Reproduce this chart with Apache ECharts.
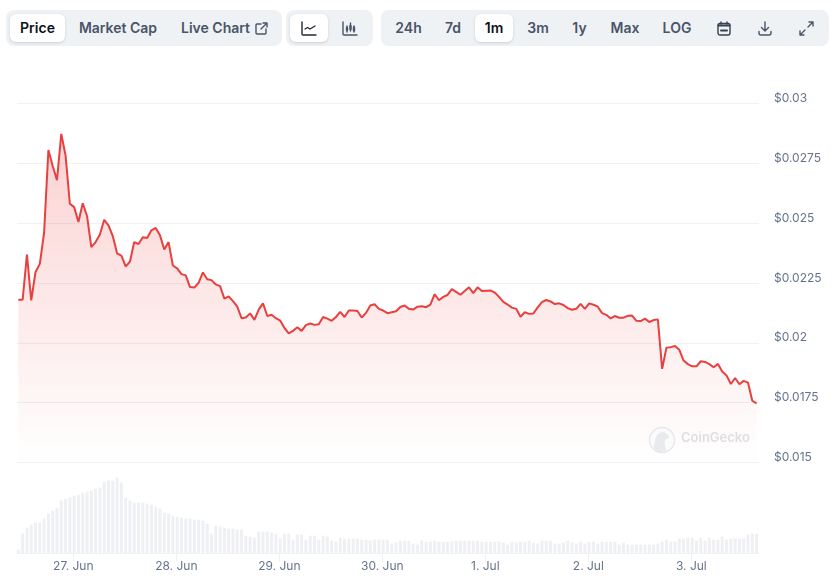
<!DOCTYPE html>
<html>
<head>
<meta charset="utf-8">
<title>Price chart</title>
<script src="https://cdn.jsdelivr.net/npm/echarts@6/dist/echarts.min.js"></script>
<style>
html, body { margin: 0; padding: 0; background: #fff; font-family: Inter, sans-serif; }
#wrap { position: relative; width: 835px; height: 584px; overflow: hidden; }
#main { position: absolute; left: 0; top: 0; width: 835px; height: 584px; }
.group { position: absolute; top: 10px; height: 36px; background: #eff2f5; border-radius: 8px; }
.active { position: absolute; top: 14px; height: 28px; background: #fff; border-radius: 6px; box-shadow: 0 1px 3px rgba(16,24,40,.16); }
.tb { position: absolute; top: 14px; height: 28px; line-height: 28px; transform: translateX(-50%); font-size: 14px; font-weight: 600; color: #4a5568; white-space: nowrap; }
.tb.on { color: #0d1217; }
svg.ic { position: absolute; fill: none; stroke: #4a5568; stroke-width: 1.4; stroke-linecap: round; stroke-linejoin: round; }
</style>
</head>
<body>
<div id="wrap">
  <div class="group" style="left:6px;width:276px"></div>
  <div class="group" style="left:286px;width:87px"></div>
  <div class="group" style="left:381px;width:448px"></div>
  <div class="active" style="left:10px;width:55px"></div>
  <div class="active" style="left:290px;width:38px"></div>
  <div class="active" style="left:475px;width:38px"></div>
  <div id="buttons"></div>
  <svg class="ic" style="left:255px;top:22px" width="13" height="13" viewBox="0 0 13 13"><path d="M6 2H2a1 1 0 0 0-1 1v8a1 1 0 0 0 1 1h8a1 1 0 0 0 1-1V7M8 1h4v4M12 1L6 7"/></svg>
  <svg class="ic" style="left:301px;top:21px;stroke:#1f2937" width="16" height="15" viewBox="0 0 16 15"><path d="M1 1v12a1 1 0 0 0 1 1h13M4 8l2.500-1.500 2.500 1.500 5-3"/></svg>
  <svg class="ic" style="left:342px;top:21px" width="16" height="15" viewBox="0 0 16 15"><path d="M1 1v12a1 1 0 0 0 1 1h13M5 5v6M8.500 2v8M12 5v6" /><path stroke-width="2.400" d="M5 7v2M8.500 5v3M12 6.500v3"/></svg>
  <svg class="ic" style="left:717px;top:21px;stroke:#374151" width="14" height="15" viewBox="0 0 14 15"><rect x="1" y="2.500" width="12" height="11.500" rx="2"/><path d="M4 1v2M10 1v2"/><path stroke-width="2" d="M1.500 4.500h11M4 9.500h6"/></svg>
  <svg class="ic" style="left:758px;top:21px" width="14" height="15" viewBox="0 0 14 15"><path d="M7 1v8.500M3.500 6.500L7 10l3.500-3.500M1 10.500V12a2 2 0 0 0 2 2h8a2 2 0 0 0 2-2v-1.500"/></svg>
  <svg class="ic" style="left:799px;top:21px" width="15" height="15" viewBox="0 0 15 15"><path d="M9 6l5-5M10 1h4v4M6 9l-5 5M1 10v4h4"/></svg>
  <div id="main"></div>
</div>
<script>
// toolbar text and centre x
var buttonLabels = ['Price', 'Market Cap', 'Live Chart', '24h', '7d', '1m', '3m', '1y', 'Max', 'LOG'];
var buttonCentres = [37.5, 118, 215.5, 408.5, 453, 494, 538, 579.5, 625, 677];
var activeButtons = ['Price', '1m'];

// hourly price
var prices = [
  0.0218, 0.0218, 0.02369, 0.02177, 0.02296, 0.0233, 0.0246, 0.02806, 0.02739, 0.0268,
  0.02873, 0.02783, 0.02581, 0.02567, 0.02505, 0.02583, 0.0253, 0.024, 0.02421, 0.02453,
  0.02514, 0.02491, 0.02446, 0.02374, 0.02364, 0.02319, 0.02339, 0.02421, 0.02413, 0.02441,
  0.02438, 0.0247, 0.0248, 0.02449, 0.0239, 0.02421, 0.02323, 0.02311, 0.02287, 0.02282,
  0.02233, 0.02231, 0.02251, 0.02294, 0.02266, 0.02262, 0.02244, 0.02237, 0.02185, 0.02194,
  0.02174, 0.02151, 0.02103, 0.02106, 0.02123, 0.02096, 0.02139, 0.02165, 0.02112,
  0.02117, 0.02103, 0.02093, 0.02062, 0.0204, 0.0205, 0.02065, 0.0205, 0.02074, 0.02081,
  0.02075, 0.02078, 0.02108, 0.02101, 0.02092, 0.02108, 0.02129, 0.02108, 0.02135, 0.02135,
  0.02133, 0.02106, 0.02125, 0.02156, 0.02161, 0.02142, 0.02135, 0.02124, 0.02128, 0.02132,
  0.0215, 0.02156, 0.02142, 0.02139, 0.02151, 0.02153, 0.02149, 0.0216, 0.02203, 0.02178,
  0.02192, 0.022, 0.02224, 0.02213, 0.02201, 0.02217, 0.02232, 0.02208, 0.02232, 0.02217,
  0.02218, 0.02219, 0.0221, 0.02192, 0.02171, 0.0216, 0.02147, 0.02142,
  0.02109, 0.02128, 0.02121, 0.02123, 0.02148, 0.0217, 0.02179, 0.02173, 0.02162, 0.02165,
  0.02158, 0.02145, 0.02138, 0.02142, 0.02163, 0.02142, 0.02165, 0.02159, 0.02151, 0.02124,
  0.02117, 0.02102, 0.02112, 0.02105, 0.02105, 0.02113, 0.02114, 0.02092, 0.02091, 0.02101,
  0.02087, 0.02095, 0.02098, 0.01891, 0.0198, 0.01982, 0.01987, 0.01971, 0.01926, 0.01911,
  0.01902, 0.01902, 0.01923, 0.0192, 0.01911, 0.01898, 0.01912, 0.0188, 0.01864, 0.01828,
  0.01853, 0.01827, 0.01841, 0.01834, 0.01758, 0.01747
];

// hourly volume, relative units
var volumes = [
  10, 58, 76, 85, 91, 91, 103, 118, 127, 136, 157, 163, 166, 172, 175, 181, 184, 187, 193, 196,
  214, 217, 217, 226, 211, 166, 157, 151, 151, 151, 148, 145, 139, 133, 121, 118, 112, 109, 106, 103,
  103, 100, 100, 97, 88, 58, 82, 79, 76, 73, 73, 70, 70, 52, 49, 46, 64, 64, 64, 61,
  58, 44, 58, 58, 40, 55, 55, 40, 52, 52, 40, 52, 49, 37, 34, 46, 43, 43,
  43, 43, 40, 40, 37, 40, 40, 40, 40, 28, 31, 37, 37, 37, 28, 25, 37, 34, 34, 37,
  34, 34, 34, 34, 37, 37, 37, 37, 37, 37, 34, 34, 34, 34, 34, 31, 25, 34, 31, 34, 34,
  37, 31, 28, 37, 37, 37, 28, 28, 31, 37, 31, 28, 34, 28, 34, 34, 28, 34, 34, 34,
  34, 25, 31, 25, 25, 25, 25, 25, 25, 25, 28, 34, 40, 34, 34, 43, 43, 46, 46, 37,
  46, 37, 46, 40, 40, 49, 40, 43, 43, 43, 43, 55, 58, 58
];

var dayLabels = ['27. Jun', '28. Jun', '29. Jun', '30. Jun', '1. Jul', '2. Jul', '3. Jul'];
var HOUR = 3600000;
var firstDay = Date.UTC(2025, 5, 27);
var firstPoint = Date.UTC(2025, 5, 26, 11, 12);
var axisMin = Date.UTC(2025, 5, 26, 10, 53);
var axisMax = Date.UTC(2025, 6, 3, 15, 46);
var dayTicks = dayLabels.map(function (d, i) { return firstDay + i * 24 * HOUR; });

var priceData = prices.map(function (v, i) { return [firstPoint + i * HOUR, v]; });
var volumeData = volumes.map(function (v, i) { return [firstPoint + i * HOUR, v]; });

var html = '';
buttonLabels.forEach(function (b, i) {
  html += '<div class="tb' + (activeButtons.indexOf(b) >= 0 ? ' on' : '') + '" style="left:' + buttonCentres[i] + 'px">' + b + '</div>';
});
document.getElementById('buttons').innerHTML = html;

var myChart = echarts.init(document.getElementById('main'), null, { renderer: 'canvas' });

var option = {
  animation: false,
  textStyle: { fontFamily: 'Inter, sans-serif' },
  grid: [
    { left: 17, right: 76, top: 103.5, height: 359 },
    { left: 17, right: 76, top: 463, height: 90 }
  ],
  xAxis: [
    { type: 'value', gridIndex: 0, min: axisMin, max: axisMax, show: false, splitLine: { show: false } },
    {
      type: 'value', gridIndex: 1, min: axisMin, max: axisMax,
      axisLine: { show: true, lineStyle: { color: '#eff1f4', width: 1 } },
      axisTick: { show: true, length: 9, customValues: dayTicks, lineStyle: { color: '#eff1f4', width: 1 } },
      axisLabel: {
        show: true, customValues: dayTicks, color: '#64748b', fontSize: 12, margin: 7,
        formatter: function (v) { return dayLabels[dayTicks.indexOf(+v)]; }
      },
      splitLine: { show: false }
    }
  ],
  yAxis: [
    {
      type: 'value', gridIndex: 0, position: 'right', min: 0.015, max: 0.03, interval: 0.0025,
      axisLine: { show: false }, axisTick: { show: false },
      splitLine: { lineStyle: { color: '#eff1f4', width: 1 } },
      axisLabel: {
        color: '#64748b', fontSize: 12, margin: 15, verticalAlign: 'bottom', lineHeight: 10,
        formatter: function (v) { return '$' + (+v.toFixed(4)); }
      }
    },
    {
      type: 'value', gridIndex: 1, min: 0, max: 270, show: false
    }
  ],
  series: [
    {
      name: 'Price', type: 'line', xAxisIndex: 0, yAxisIndex: 0, data: priceData,
      showSymbol: false, smooth: false, z: 3,
      lineStyle: { color: '#e8403f', width: 2 },
      areaStyle: {
        origin: 'start',
        color: new echarts.graphic.LinearGradient(0, 0, 0, 1, [
          { offset: 0, color: 'rgba(239,68,68,0.35)' },
          { offset: 1, color: 'rgba(239,68,68,0)' }
        ])
      }
    },
    {
      name: 'Volume', type: 'bar', xAxisIndex: 1, yAxisIndex: 1, data: volumeData,
      barWidth: 3, itemStyle: { color: '#eef0f3' }
    }
  ],
  graphic: [
    { type: 'circle', shape: { cx: 662, cy: 440, r: 12.5 }, style: { fill: '#fbfbfc', stroke: '#e6e8eb', lineWidth: 1.5 }, z: 10 },
    { type: 'polygon', shape: { points: [[655, 451], [655, 440], [658, 434], [663, 432], [668, 435], [669, 438], [665, 440], [665, 446], [666, 451]], smooth: 0.3 }, style: { fill: '#e8eaed' }, z: 11 },
    { type: 'text', left: 681, top: 432, style: { text: 'CoinGecko', fill: '#dcdfe3', font: '600 13px Inter, sans-serif' }, z: 11 }
  ]
};

myChart.setOption(option);
</script>
</body>
</html>
